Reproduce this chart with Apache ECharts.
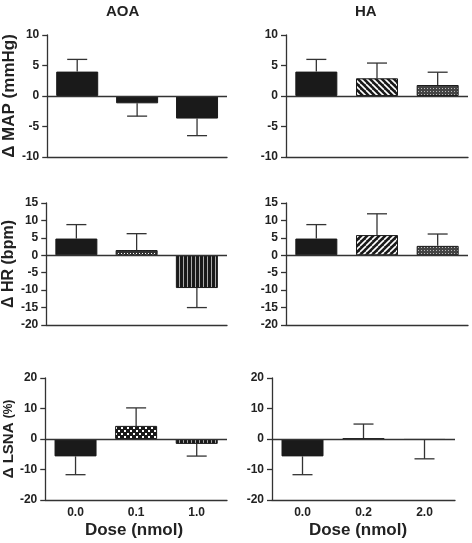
<!DOCTYPE html>
<html>
<head>
<meta charset="utf-8">
<script src="https://cdn.jsdelivr.net/npm/echarts@6/dist/echarts.min.js"></script>
<style>html,body{margin:0;padding:0;background:#fff}#c{width:472px;height:543px}</style>
</head>
<body>
<div id="c"></div>
<script>
// ---- data ----
const doseAOA = ['0.0', '0.1', '1.0'];
const doseHA = ['0.0', '0.2', '2.0'];
const mapAOA = [4.0, -1.2, -3.7];
const mapAOASem = [2.0, 2.1, 2.8];
const mapHA = [4.0, 2.9, 1.8];
const mapHASem = [2.0, 2.5, 2.1];
const hrAOA = [4.8, 1.5, -9.4];
const hrAOASem = [4.0, 4.7, 5.6];
const hrHA = [4.8, 5.8, 2.7];
const hrHASem = [4.0, 6.1, 3.4];
const lsnaAOA = [-5.7, 4.3, -1.6];
const lsnaAOASem = [6.0, 5.9, 4.0];
const lsnaHA = [-5.7, 0.2, -0.3];
const lsnaHASem = [6.0, 4.7, 6.2];
const mapTicks = {min: -10, max: 10, interval: 5};
const hrTicks = {min: -20, max: 15, interval: 5};
const lsnaTicks = {min: -20, max: 20, interval: 10};

// ---- patterns ----
function pat(type) {
  const c = document.createElement('canvas');
  let s = 6;
  if (type === 'vert') { c.width = 4; c.height = 4; }
  else if (type === 'stipple') { c.width = 3; c.height = 3; }
  else { c.width = s; c.height = s; }
  const g = c.getContext('2d');
  g.fillStyle = '#1a1a1a';
  g.fillRect(0, 0, c.width, c.height);
  if (type === 'back' || type === 'fwd') {
    g.strokeStyle = '#fff'; g.lineWidth = 1.6;
    for (let k = -s; k <= s; k += s) {
      g.beginPath();
      if (type === 'back') { g.moveTo(k, 0); g.lineTo(k + s, s); }
      else { g.moveTo(k, s); g.lineTo(k + s, 0); }
      g.stroke();
    }
  } else if (type === 'stipple') {
    g.fillStyle = '#444'; g.fillRect(0, 0, 3, 3);
    g.fillStyle = '#bbb'; g.fillRect(1, 1, 1, 1);
  } else if (type === 'vert') {
    g.fillStyle = '#aaa'; g.fillRect(3, 0, 1, 4);
  } else if (type === 'xs') {
    g.fillStyle = '#333'; g.fillRect(0, 0, 6, 6);
    g.strokeStyle = '#fff'; g.lineWidth = 1;
    g.beginPath(); g.moveTo(1, 1); g.lineTo(5, 5); g.moveTo(5, 1); g.lineTo(1, 5); g.stroke();
  } else if (type === 'check') {
    g.fillStyle = '#fff';
    g.fillRect(1, 1, 2, 2); g.fillRect(4, 4, 2, 2);
  }
  return {image: c, repeat: 'repeat'};
}
const SOLID = '#1a1a1a';
function fill(t) { return t === 'solid' ? SOLID : pat(t); }

const panels = [
  {title: 'AOA', cats: doseAOA, vals: mapAOA, sem: mapAOASem, ticks: mapTicks, left: 44, top: 35, width: 183, pats: ['solid','solid','solid'],
   name: 'Δ MAP (mmHg)', showX: false},
  {title: 'HA', cats: doseHA, vals: mapHA, sem: mapHASem, ticks: mapTicks, left: 286, top: 35, width: 182, pats: ['solid','back','stipple'],
   name: '', showX: false},
  {cats: doseAOA, vals: hrAOA, sem: hrAOASem, ticks: hrTicks, left: 44, top: 203, width: 183, pats: ['solid','xs','vert'],
   name: 'Δ HR (bpm)', showX: false},
  {cats: doseHA, vals: hrHA, sem: hrHASem, ticks: hrTicks, left: 286, top: 203, width: 182, pats: ['solid','fwd','stipple'],
   name: '', showX: false},
  {cats: doseAOA, vals: lsnaAOA, sem: lsnaAOASem, ticks: lsnaTicks, left: 44, top: 378, width: 183, pats: ['solid','check','vert'],
   name: '{a|Δ LSNA }{b|(%)}', showX: true},
  {cats: doseHA, vals: lsnaHA, sem: lsnaHASem, ticks: lsnaTicks, left: 272, top: 378, width: 183, pats: ['solid','fwd','stipple'],
   name: '', showX: true}
];

const AX = '#333';
const TXT = '#222';
const FONT = 'Liberation Sans, Arial, sans-serif';
const grid = [], xAxis = [], yAxis = [], series = [];
panels.forEach((p, i) => {
  grid.push({left: p.left, top: p.top, width: p.width, height: 122});
  xAxis.push({
    type: 'category', gridIndex: i, data: p.cats,
    axisLine: {onZero: false, lineStyle: {color: AX, width: 1.3}},
    axisTick: {alignWithLabel: true, length: 5, lineStyle: {color: AX, width: 1.3}},
    axisLabel: {show: p.showX, color: TXT, fontWeight: 'bold', fontSize: 12, fontFamily: FONT, margin: 7},
    splitLine: {show: false}
  });
  yAxis.push({
    type: 'value', gridIndex: i, min: p.ticks.min, max: p.ticks.max, interval: p.ticks.interval,
    axisLine: {show: true, lineStyle: {color: AX, width: 1.3}},
    axisTick: {show: true, length: 5, lineStyle: {color: AX, width: 1.3}},
    axisLabel: {color: TXT, fontWeight: 'bold', fontSize: 12, fontFamily: FONT, margin: 8},
    splitLine: {show: false},
    name: p.name, nameLocation: 'middle', nameRotate: 90, nameGap: 26,
    nameTextStyle: {color: TXT, fontWeight: 'bold', fontSize: i === 0 ? 17 : 16, fontFamily: FONT,
      rich: {a: {color: TXT, fontWeight: 'bold', fontSize: 15, fontFamily: FONT},
             b: {color: TXT, fontWeight: 'bold', fontSize: 12, fontFamily: FONT}}}
  });
  series.push({
    type: 'bar', xAxisIndex: i, yAxisIndex: i, barWidth: 42, z: 3,
    data: p.vals.map((v, k) => ({value: v, itemStyle: {color: fill(p.pats[k]), borderColor: '#1a1a1a', borderWidth: 1}})),
    markLine: {silent: true, symbol: 'none', label: {show: false}, animation: false,
      lineStyle: {color: AX, width: 1.3, type: 'solid'}, data: [{yAxis: 0}]},
    animation: false
  });
  series.push({
    type: 'custom', xAxisIndex: i, yAxisIndex: i, z: 2,
    data: p.vals.map((v, k) => [k, v, v >= 0 ? v + p.sem[k] : v - p.sem[k]]),
    renderItem: function (params, api) {
      const a = api.coord([api.value(0), api.value(1)]);
      const b = api.coord([api.value(0), api.value(2)]);
      const hw = 10;
      const st = {stroke: AX, lineWidth: 1.3};
      return {type: 'group', children: [
        {type: 'line', shape: {x1: a[0], y1: a[1], x2: b[0], y2: b[1]}, style: st},
        {type: 'line', shape: {x1: b[0] - hw, y1: b[1], x2: b[0] + hw, y2: b[1]}, style: st}
      ]};
    },
    animation: false
  });
});

const chart = echarts.init(document.getElementById('c'));
chart.setOption({
  backgroundColor: '#fff',
  animation: false,
  grid, xAxis, yAxis, series,
  graphic: [
    {type: 'text', left: 123 - 17, top: 4, style: {text: 'AOA', fill: TXT, font: 'bold 15px ' + FONT}},
    {type: 'text', left: 366 - 11, top: 4, style: {text: 'HA', fill: TXT, font: 'bold 15px ' + FONT}},
    {type: 'text', x: 134, y: 530, style: {text: 'Dose (nmol)', fill: TXT, font: 'bold 17px ' + FONT, align: 'center', verticalAlign: 'middle'}},
    {type: 'text', x: 358, y: 530, style: {text: 'Dose (nmol)', fill: TXT, font: 'bold 17px ' + FONT, align: 'center', verticalAlign: 'middle'}}
  ]
});
</script>
</body>
</html>
